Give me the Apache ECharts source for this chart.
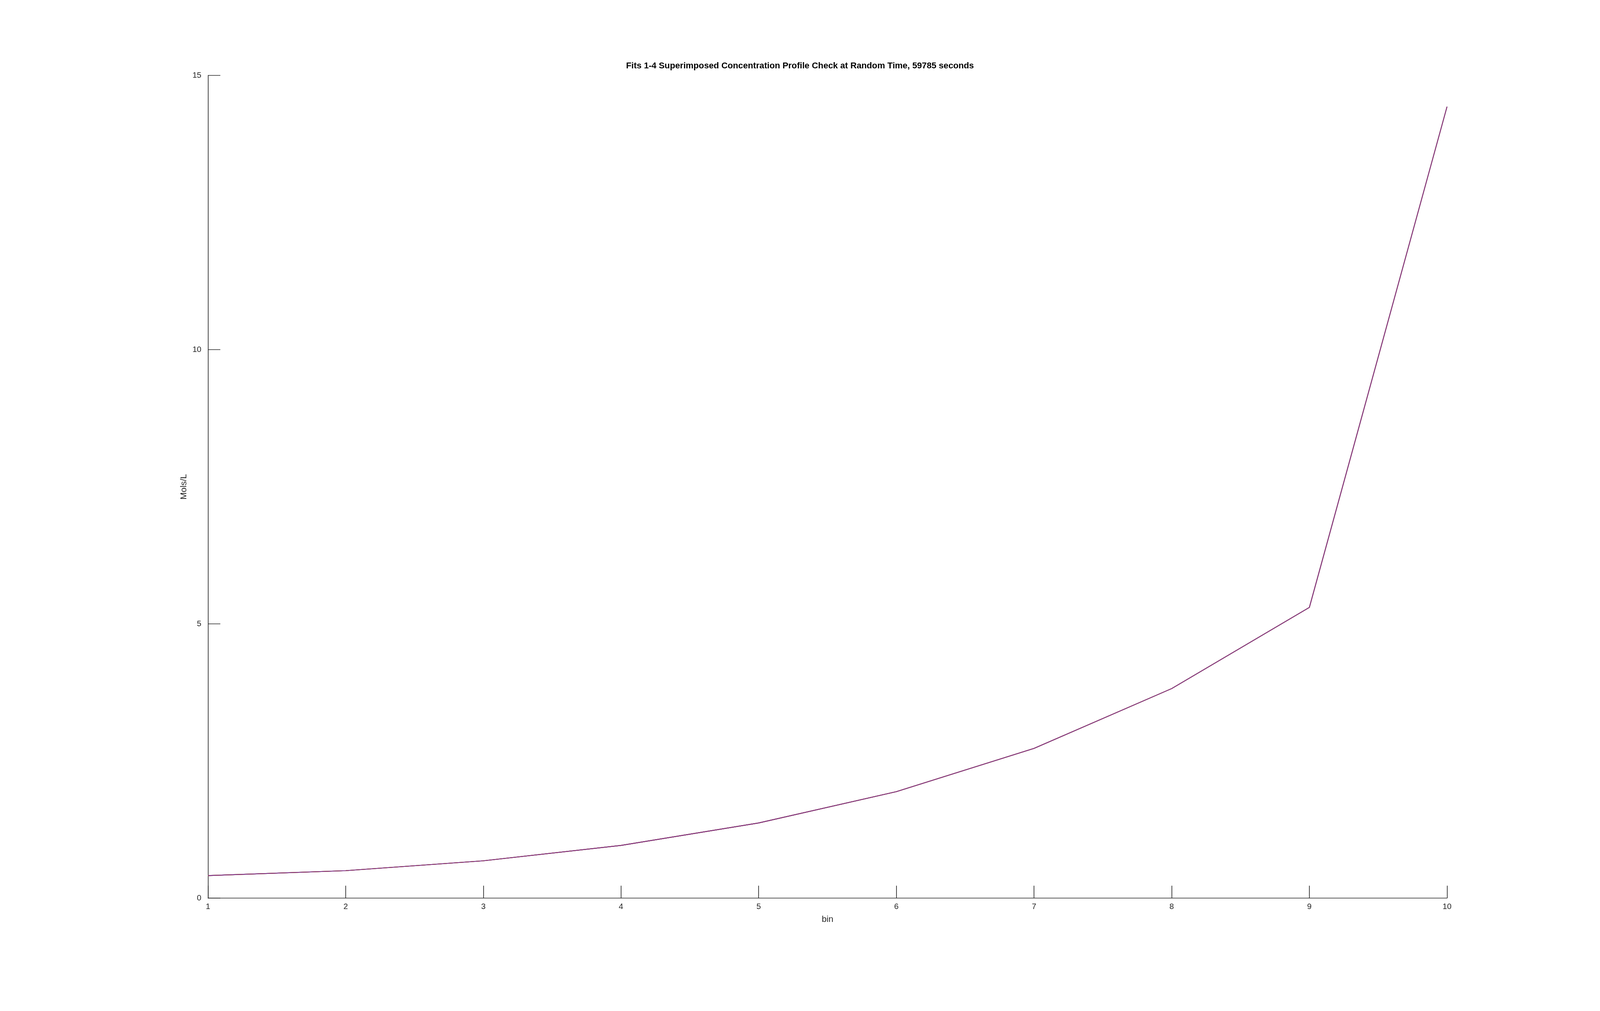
<!DOCTYPE html>
<html><head><meta charset="utf-8">
<script src="https://cdn.jsdelivr.net/npm/echarts@6/dist/echarts.min.js"></script>
<style>html,body{margin:0;padding:0;background:#fff;overflow:hidden}#c{width:100vw;height:100vh}</style>
</head><body><div id="c"></div>
<script>
const bins = [1,2,3,4,5,6,7,8,9,10];
const fit1 = [0.41,0.50,0.68,0.96,1.37,1.94,2.73,3.82,5.30,14.43];
const fit2 = [0.41,0.50,0.68,0.96,1.37,1.94,2.73,3.82,5.30,14.43];
const fit3 = [0.41,0.50,0.68,0.96,1.37,1.94,2.73,3.82,5.30,14.43];
const fit4 = [0.41,0.50,0.68,0.96,1.37,1.94,2.73,3.82,5.30,14.43];
const fitNames = ['Fit 1','Fit 2','Fit 3','Fit 4'];
const fitColors = ['#0072BD','#D95319','#EDB120','#7E2F8E'];
const fits = [fit1,fit2,fit3,fit4];
const el = document.getElementById('c');
const chart = echarts.init(el);
const s = el.clientWidth / 4800;   // scale from reference pixels to CSS pixels
const axisCol = '#262626';
chart.setOption({
  animation:false,
  backgroundColor:'#fff',
  title:{text:'Fits 1-4 Superimposed Concentration Profile Check at Random Time, 59785 seconds',
    left:'center', top:'5.9%', textStyle:{fontFamily:'Liberation Sans',fontSize:26*s,fontWeight:'bold',color:'#000'}},
  grid:{left:'13%',right:'9.56%',top:'7.46%',bottom:'11.17%',containLabel:false},
  xAxis:{type:'value',min:1,max:10,interval:1,name:'bin',nameLocation:'middle',nameGap:52*s,
    nameTextStyle:{fontFamily:'Liberation Sans',fontSize:26*s,color:axisCol},
    axisLine:{lineStyle:{color:axisCol,width:2*s}},
    axisTick:{inside:true,length:37*s,lineStyle:{color:axisCol,width:2*s}},
    axisLabel:{fontFamily:'Liberation Sans',fontSize:24*s,color:axisCol,margin:14*s},
    splitLine:{show:false}},
  yAxis:{type:'value',min:0,max:15,interval:5,name:'Mols/L',nameLocation:'middle',nameGap:45*s,
    nameTextStyle:{fontFamily:'Liberation Sans',fontSize:26*s,color:axisCol},
    axisLine:{show:true,lineStyle:{color:axisCol,width:2*s}},
    axisTick:{show:true,inside:true,length:37*s,lineStyle:{color:axisCol,width:2*s}},
    axisLabel:{fontFamily:'Liberation Sans',fontSize:24*s,color:axisCol,margin:20*s},
    splitLine:{show:false}},
  series: fits.map((f,i)=>({name:fitNames[i],type:'line',symbol:'none',
    data:bins.map((b,j)=>[b,f[j]]),lineStyle:{color:fitColors[i],width:2.5*s},z:2+i}))
});
</script></body></html>
